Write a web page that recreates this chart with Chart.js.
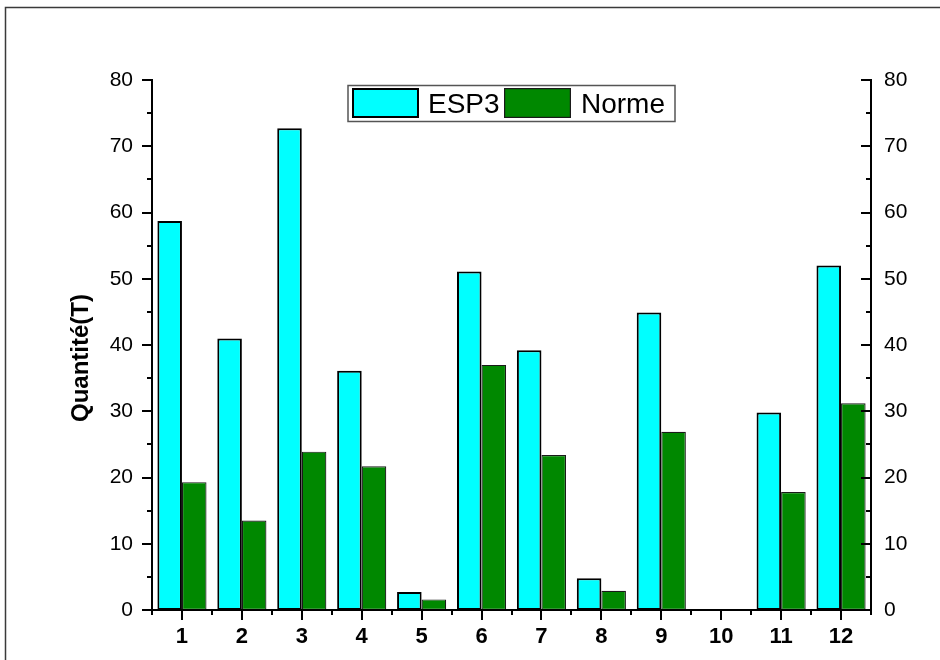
<!DOCTYPE html>
<html>
<head>
<meta charset="utf-8">
<script src="https://cdn.jsdelivr.net/npm/chart.js@4.4.1/dist/chart.umd.min.js"></script>
<style>
  html, body { margin: 0; padding: 0; background: #fff; }
  #wrap { width: 940px; height: 660px; position: relative; }
</style>
</head>
<body>
<div id="wrap"><canvas id="c" width="940" height="660"></canvas></div>
<script>
// Sample numbers 1..12
const categories = ['1', '2', '3', '4', '5', '6', '7', '8', '9', '10', '11', '12'];
// Measured quantity (ESP3) and the reference norm, in tonnes
const esp3Values  = [58.7, 41.0, 72.7, 36.1, 2.7, 51.1, 39.2, 4.8, 44.9, 0, 29.8, 52.0];
const normeValues = [19.3, 13.5, 23.9, 21.7, 1.6, 37.0, 23.4, 2.9, 26.9, 0, 17.8, 31.2];
const seriesNames = ['ESP3', 'Norme'];
const yTitle = 'Quantité(T)';
const yMin = 0, yMax = 80, yMajor = 10, yMinor = 5;

const FONT = '"Liberation Sans", Arial, sans-serif';

// Outer frame, axis lines, tick marks (major + minor), axis title and legend
const axesPlugin = {
  id: 'axesFrame',
  afterDatasetsDraw(chart) {
    const { ctx, chartArea: a, scales } = chart;
    const y = scales.y, x = scales.x;
    ctx.save();
    ctx.strokeStyle = '#000';
    ctx.lineWidth = 2;
    ctx.lineCap = 'butt';
    ctx.beginPath();
    ctx.moveTo(a.left, a.top - 1); ctx.lineTo(a.left, a.bottom + 1);
    ctx.moveTo(a.right, a.top - 1); ctx.lineTo(a.right, a.bottom + 1);
    ctx.moveTo(a.left, a.bottom); ctx.lineTo(a.right, a.bottom);
    for (let v = yMin; v <= yMax; v += yMinor) {
      const py = Math.round(y.getPixelForValue(v));
      const len = v % yMajor === 0 ? 10 : 5;
      ctx.moveTo(a.left - len, py); ctx.lineTo(a.left, py);
      ctx.moveTo(a.right - len, py); ctx.lineTo(a.right, py);
    }
    for (let i = 0; i < categories.length; i++) {
      const px = Math.round(x.getPixelForValue(i));
      ctx.moveTo(px, a.bottom); ctx.lineTo(px, a.bottom + 10);
    }
    for (let i = 0; i <= categories.length; i++) {
      const px = Math.round(x.getPixelForValue(i - 0.5));
      ctx.moveTo(px, a.bottom); ctx.lineTo(px, a.bottom + 5);
    }
    ctx.stroke();
    ctx.restore();
  },
  afterDraw(chart) {
    const { ctx } = chart;
    ctx.save();
    // page frame
    ctx.strokeStyle = '#3a3a3a';
    ctx.lineWidth = 1.5;
    ctx.beginPath();
    ctx.moveTo(5.5, 662); ctx.lineTo(5.5, 7.5); ctx.lineTo(942, 7.5);
    ctx.stroke();

    // left axis title
    ctx.save();
    ctx.translate(88, 358);
    ctx.rotate(-Math.PI / 2);
    ctx.font = 'bold 24px ' + FONT;
    ctx.fillStyle = '#000';
    ctx.textAlign = 'center';
    ctx.textBaseline = 'alphabetic';
    ctx.fillText(yTitle, 0, 0);
    ctx.restore();

    // legend box
    const ds = chart.data.datasets;
    ctx.strokeStyle = '#555';
    ctx.lineWidth = 1.5;
    ctx.strokeRect(348, 85.5, 327, 36);
    const items = [
      { sx: 352, tx: 428 },
      { sx: 504, tx: 581 }
    ];
    ctx.font = '28px ' + FONT;
    ctx.textBaseline = 'alphabetic';
    ctx.textAlign = 'left';
    items.forEach((it, i) => {
      const d = ds[i];
      ctx.fillStyle = d.backgroundColor;
      ctx.fillRect(it.sx, 88, 67, 30);
      ctx.strokeStyle = d.borderColor;
      ctx.lineWidth = d.borderWidth;
      ctx.strokeRect(it.sx + d.borderWidth / 2, 88 + d.borderWidth / 2, 67 - d.borderWidth, 30 - d.borderWidth);
      ctx.fillStyle = '#000';
      ctx.fillText(d.label, it.tx, 113);
    });
    ctx.restore();
  }
};

const yTickOpts = (pad) => ({
  stepSize: yMajor,
  padding: pad,
  color: '#000',
  font: { family: FONT, size: 21 }
});

new Chart(document.getElementById('c'), {
  type: 'bar',
  data: {
    labels: categories,
    datasets: [
      {
        label: seriesNames[0],
        data: esp3Values,
        backgroundColor: '#00FFFF',
        borderColor: '#000000',
        borderWidth: 2,
        borderSkipped: false,
        categoryPercentage: 0.82,
        barPercentage: 1.0,
        yAxisID: 'y'
      },
      {
        label: seriesNames[1],
        data: normeValues,
        backgroundColor: '#008800',
        borderColor: '#1a1a1a',
        borderWidth: 1.2,
        borderSkipped: false,
        categoryPercentage: 0.82,
        barPercentage: 1.0,
        yAxisID: 'y'
      }
    ]
  },
  options: {
    responsive: false,
    animation: false,
    layout: { padding: { top: 80, left: 0, right: 0, bottom: 0 } },
    plugins: {
      legend: { display: false },
      tooltip: { enabled: false }
    },
    scales: {
      x: {
        offset: true,
        grid: { display: false, drawTicks: false },
        border: { display: false },
        ticks: {
          padding: 14,
          color: '#000',
          font: { family: FONT, size: 22, weight: 'bold' }
        },
        afterFit: (s) => { s.height = 50; }
      },
      y: {
        position: 'left',
        min: yMin, max: yMax,
        grid: { display: false, drawTicks: false },
        border: { display: false },
        ticks: yTickOpts(19),
        afterFit: (s) => { s.width = 152; }
      },
      y2: {
        position: 'right',
        min: yMin, max: yMax,
        grid: { display: false, drawTicks: false },
        border: { display: false },
        ticks: yTickOpts(13),
        afterFit: (s) => { s.width = 69; }
      }
    }
  },
  plugins: [axesPlugin]
});
</script>
</body>
</html>
